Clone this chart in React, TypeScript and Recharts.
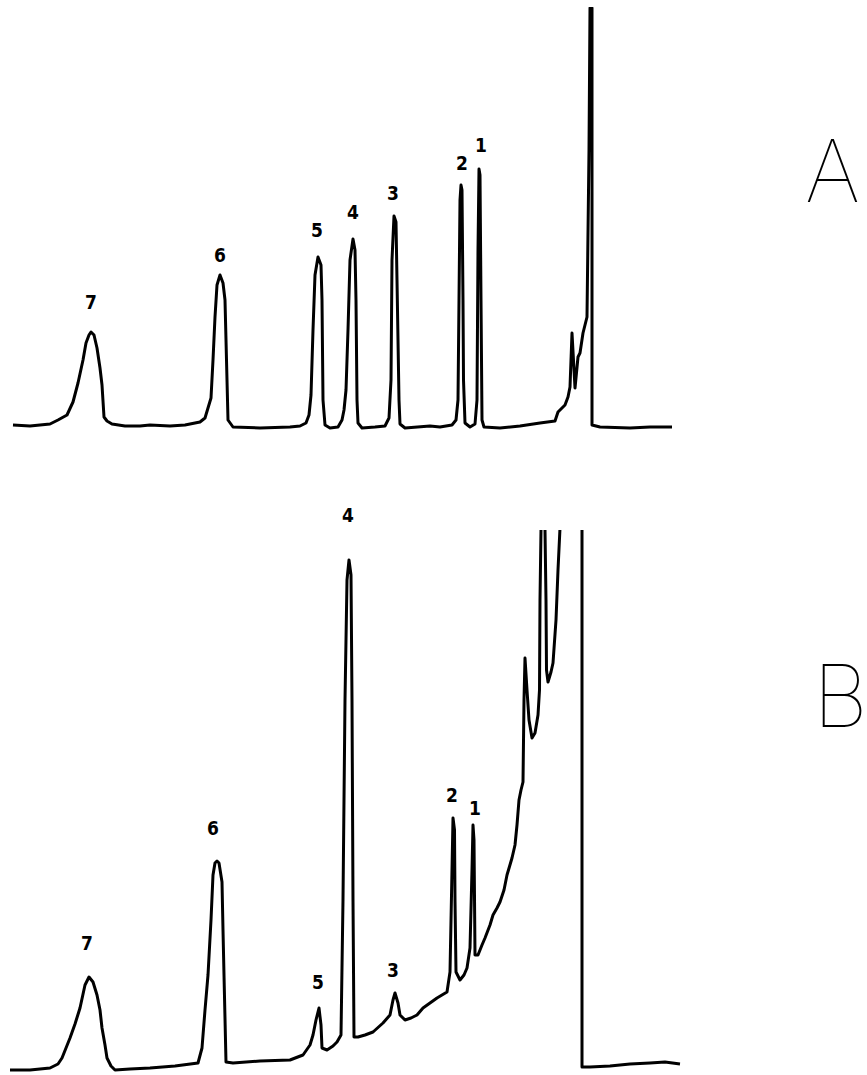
import { LineChart, Line, XAxis, YAxis, ReferenceDot } from 'recharts';

// ── Data (time in arbitrary units, detector response above baseline) ──
// Trace A: standards, solvent front on the right
const traceA: [number, number][] = [
  [1.3, 2], [3.0, 1], [5.0, 3], [5.8, 7], [6.7, 12], [7.3, 25], [7.8, 44], [8.3, 67],
  [8.6, 84], [8.9, 92], [9.1, 95], [9.4, 92], [9.7, 79], [10.0, 59], [10.2, 42], [10.4, 10],
  [10.7, 6], [11.2, 3], [12.5, 1], [14.0, 1], [15.0, 2], [17.0, 1], [18.5, 2], [20.0, 5],
  [20.5, 9], [20.8, 19], [21.1, 29], [21.3, 67], [21.5, 110], [21.7, 142], [22.0, 152],
  [22.3, 144], [22.5, 127], [22.7, 47], [22.8, 7], [23.3, 0], [26.0, -1], [29.0, 0],
  [30.0, 1], [30.6, 4], [30.9, 12], [31.1, 32], [31.3, 97], [31.5, 152], [31.8, 170],
  [32.1, 162], [32.2, 127], [32.3, 27], [32.5, 2], [33.0, -1], [33.8, 0], [34.2, 7],
  [34.4, 17], [34.6, 37], [34.8, 97], [35.0, 167], [35.3, 188], [35.5, 177], [35.6, 127],
  [35.7, 27], [35.8, 4], [36.2, -1], [37.5, 0], [38.5, 1], [38.9, 9], [39.1, 47],
  [39.2, 167], [39.4, 211], [39.6, 205], [39.7, 147], [39.9, 27], [40.0, 3], [40.5, -1],
  [43.0, 1], [44.0, 0], [45.2, 2], [45.6, 7], [45.8, 27], [45.9, 127], [46.0, 227],
  [46.1, 242], [46.2, 237], [46.3, 127], [46.35, 47], [46.5, 4], [47.0, 0], [47.5, 3],
  [47.7, 27], [47.8, 177], [47.9, 258], [48.0, 252], [48.1, 127], [48.2, 7], [48.4, 0],
  [50.0, -1], [52.0, 1], [54.0, 4], [55.5, 6], [55.8, 15], [56.5, 22], [56.8, 30],
  [57.0, 40], [57.2, 94], [57.5, 39], [57.8, 70], [58.0, 74], [58.3, 94], [58.7, 110],
  [58.9, 277], [59.0, 419], [59.2, 419], [59.2, 2], [60.0, 0], [63.0, -1], [65.0, 0],
  [67.2, 0],
];

// Trace B: sample, rising baseline and off-scale solvent peaks
const traceB: [number, number][] = [
  [1.0, 0], [3.0, 0], [5.0, 2], [5.8, 6], [6.2, 12], [6.6, 22], [7.0, 32], [7.5, 46],
  [8.0, 62], [8.5, 85], [8.9, 93], [9.3, 88], [9.7, 75], [10.0, 60], [10.2, 42], [10.5, 25],
  [10.7, 12], [11.1, 4], [11.5, 0], [13.0, 1], [15.0, 2], [17.5, 4], [19.8, 7], [20.2, 22],
  [20.5, 60], [20.8, 95], [21.1, 150], [21.3, 195], [21.5, 207], [21.7, 209], [21.9, 207],
  [22.2, 188], [22.3, 140], [22.4, 95], [22.6, 8], [23.3, 7], [26.0, 9], [29.0, 10],
  [30.3, 15], [31.0, 25], [31.3, 35], [31.6, 50], [31.9, 62], [32.1, 45], [32.2, 22],
  [32.7, 20], [33.3, 24], [33.7, 28], [34.1, 35], [34.3, 170], [34.5, 370], [34.7, 490],
  [34.9, 510], [35.1, 495], [35.2, 370], [35.3, 170], [35.4, 33], [35.8, 33], [36.5, 35],
  [37.3, 38], [38.3, 47], [39.0, 55], [39.3, 70], [39.5, 77], [39.8, 67], [40.0, 55],
  [40.5, 50], [41.1, 52], [41.7, 55], [42.3, 62], [43.0, 67], [43.7, 72], [44.7, 78],
  [45.0, 98], [45.2, 200], [45.3, 252], [45.45, 240], [45.5, 170], [45.6, 98], [46.0, 90],
  [46.4, 95], [46.7, 102], [47.0, 122], [47.2, 200], [47.3, 245], [47.4, 230], [47.5, 115],
  [47.8, 115], [48.2, 125], [48.5, 132], [49.0, 145], [49.3, 155], [49.7, 162], [50.0, 168],
  [50.4, 180], [50.7, 195], [51.2, 212], [51.5, 225], [51.7, 245], [51.9, 270], [52.1, 280],
  [52.3, 288], [52.4, 370], [52.5, 412], [52.7, 380], [52.9, 350], [53.2, 332], [53.5, 337],
  [53.8, 355], [53.95, 380], [54.0, 470], [54.1, 540], [54.3, 650], [54.5, 540], [54.6, 470],
  [54.65, 400], [54.8, 388], [55.1, 398], [55.3, 407], [55.6, 450], [55.8, 500], [56.0, 542],
  [56.2, 650], [58.2, 650], [58.2, 3], [59.0, 3], [61.0, 4], [63.0, 6], [65.0, 7],
  [66.5, 8], [68.0, 6],
];

// peak numbers, placed where they are written
const peakLabelsA = [
  { name: '7', x: 9.1, y: 125 },
  { name: '6', x: 22.0, y: 172 },
  { name: '5', x: 31.7, y: 197 },
  { name: '4', x: 35.3, y: 215 },
  { name: '3', x: 39.3, y: 234 },
  { name: '2', x: 46.2, y: 264 },
  { name: '1', x: 48.1, y: 282 },
];

const peakLabelsB = [
  { name: '7', x: 8.7, y: 127 },
  { name: '6', x: 21.3, y: 242 },
  { name: '5', x: 31.8, y: 88 },
  { name: '4', x: 34.8, y: 555 },
  { name: '3', x: 39.3, y: 100 },
  { name: '2', x: 45.2, y: 275 },
  { name: '1', x: 47.5, y: 262 },
];

const panelNames = ['A', 'B'];

const toRows = (pts: [number, number][]) => pts.map(([x, y]) => ({ x, y }));

const labelStyle = {
  fill: '#000',
  fontSize: 19,
  fontWeight: 700,
  fontFamily: "'DejaVu Sans Condensed', 'Liberation Sans Narrow', sans-serif",
};

// ── Component ────────────────────────────────────────────
function Trace({
  rows,
  labels,
  height,
  yDomain,
  margin,
}: {
  rows: { x: number; y: number }[];
  labels: { name: string; x: number; y: number }[];
  height: number;
  yDomain: [number, number];
  margin: { top: number; right: number; bottom: number; left: number };
}) {
  return (
    <LineChart width={867} height={height} data={rows} margin={margin}>
      <XAxis type="number" dataKey="x" domain={[0, 86.7]} hide allowDataOverflow />
      <YAxis type="number" domain={yDomain} hide allowDataOverflow />
      <Line
        type="linear"
        dataKey="y"
        stroke="#000"
        strokeWidth={3}
        strokeLinejoin="round"
        dot={false}
        activeDot={false}
        isAnimationActive={false}
      />
      {labels.map((l) => (
        <ReferenceDot
          key={l.name}
          x={l.x}
          y={l.y}
          r={0}
          stroke="none"
          ifOverflow="visible"
          label={{ value: l.name, position: 'center', ...labelStyle }}
        />
      ))}
    </LineChart>
  );
}

export default function App() {
  return (
    <div style={{ position: 'relative', width: 867, height: 1075, overflow: 'hidden', background: '#fff' }}>
      <style>{'body{margin:0;background:#fff}'}</style>
      <div style={{ position: 'absolute', left: 0, top: 0 }}>
        <Trace
          rows={toRows(traceA)}
          labels={peakLabelsA}
          height={440}
          yDomain={[-10, 420]}
          margin={{ top: 7, right: 0, bottom: 3, left: 0 }}
        />
      </div>
      <div style={{ position: 'absolute', left: 0, top: 490 }}>
        <Trace
          rows={toRows(traceB)}
          labels={peakLabelsB}
          height={585}
          yDomain={[-5, 540]}
          margin={{ top: 40, right: 0, bottom: 0, left: 0 }}
        />
      </div>
      <svg width={867} height={1075} style={{ position: 'absolute', left: 0, top: 0, pointerEvents: 'none' }}>
        <text x={805} y={202} fontSize={86} fontWeight={100} fontFamily="Inter, Roboto, Lato, sans-serif" fill="#000">
          {panelNames[0]}
        </text>
        <text x={813} y={727} fontSize={86} fontWeight={100} fontFamily="Inter, Roboto, Lato, sans-serif" fill="#000">
          {panelNames[1]}
        </text>
      </svg>
    </div>
  );
}
